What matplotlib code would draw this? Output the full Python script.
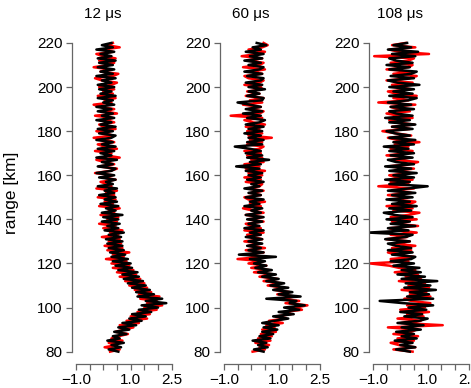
# Range profiles for three pulse lengths, red and black estimates per panel

import numpy as np
import matplotlib
matplotlib.use('Agg')
import matplotlib.pyplot as plt
import matplotlib.transforms as mtransforms

plt.rcParams['font.family'] = ['Liberation Sans', 'DejaVu Sans']

range_km = np.arange(80, 221, 1)
titles = ['12 \u03bcs', '60 \u03bcs', '108 \u03bcs']
x_ticks = [-1.0, -0.5, 0.0, 0.5, 1.0, 1.5, 2.0, 2.5]
x_tick_labels = ['\u22121.0', '', '', '', '1.0', '', '', '2.5']
y_ticks = [80, 100, 120, 140, 160, 180, 200, 220]

# 12 us
black_12 = [
    0.55, 0.20, 0.65, 0.30, 0.75, 0.15, 0.60, 0.35, 0.85, 0.40,
    0.95, 0.55, 1.20, 0.70, 1.40, 0.95, 1.55, 1.05, 1.75, 1.30,
    2.00, 1.40, 2.30, 1.55, 2.15, 1.25, 1.85, 1.20, 1.70, 1.05,
    1.55, 0.90, 1.45, 0.75, 1.30, 0.70, 1.25, 0.55, 1.05, 0.45,
    1.00, 0.35, 0.90, 0.30, 0.80, 0.25, 0.75, 0.20, 0.70, 0.15,
    0.70, 0.10, 0.65, 0.20, 0.75, 0.05, 0.55, 0.15, 0.60, -0.05,
    0.55, 0.00, 0.70, -0.05, 0.45, 0.10, 0.55, -0.10, 0.50, 0.05,
    0.45, -0.15, 0.40, 0.05, 0.50, -0.20, 0.35, 0.10, 0.45, -0.15,
    0.40, -0.25, 0.30, 0.45, -0.20, 0.35, -0.05, 0.50, -0.25, 0.30,
    -0.10, 0.40, -0.20, 0.45, -0.05, 0.35, -0.25, 0.30, 0.45, -0.15,
    0.35, -0.20, 0.45, -0.10, 0.30, -0.25, 0.40, -0.05, 0.35, -0.20,
    0.30, -0.25, 0.40, 0.00, 0.35, -0.20, 0.45, -0.10, 0.30, -0.15,
    0.40, -0.20, 0.30, -0.05, 0.45, -0.25, 0.35, -0.10, 0.40, -0.20,
    0.35, -0.15, 0.45, -0.20, 0.30, -0.10, 0.40, -0.25, 0.35, -0.05,
    0.30]
red_12 = [
    0.25, 0.60, 0.05, 0.50, 0.20, 0.70, 0.30, 0.55, 0.90, 0.45,
    0.75, 1.10, 0.60, 1.30, 0.85, 1.60, 1.00, 1.70, 1.25, 1.95,
    1.50, 2.15, 1.60, 1.95, 1.35, 2.05, 1.30, 1.75, 1.15, 1.60,
    0.95, 1.50, 0.80, 1.35, 0.60, 1.20, 0.50, 1.10, 0.35, 0.95,
    0.30, 0.85, 0.10, 0.75, 0.35, 0.95, 0.15, 0.70, 0.05, 0.65,
    0.20, 0.60, -0.05, 0.55, 0.25, 0.70, 0.00, 0.45, -0.15, 0.50,
    0.15, 0.55, -0.10, 0.40, 0.20, 0.60, -0.15, 0.35, 0.05, 0.45,
    -0.20, 0.40, 0.10, 0.50, -0.25, 0.30, 0.15, -0.10, 0.45, 0.00,
    0.35, -0.30, 0.25, 0.50, -0.15, 0.40, 0.05, -0.25, 0.60, 0.10,
    0.30, -0.30, 0.50, 0.05, -0.20, 0.40, 0.15, -0.35, 0.35, 0.10,
    -0.25, 0.45, 0.00, -0.15, 0.40, 0.10, 0.35, -0.30, 0.50, 0.05,
    0.40, -0.10, -0.35, 0.30, 0.05, 0.45, -0.20, 0.35, 0.00, 0.40,
    -0.15, 0.30, 0.50, -0.05, -0.30, 0.35, 0.55, -0.10, 0.25, -0.35,
    0.20, 0.40, -0.15, 0.45, 0.00, -0.25, 0.35, -0.05, 0.60, 0.15,
    0.35]

# 60 us
black_60 = [
    0.45, 0.10, 0.60, 0.25, 0.55, 0.05, 0.70, 0.30, 0.80, 0.40,
    0.95, 0.45, 1.00, 0.40, 0.85, 1.35, 0.80, 1.55, 1.00, 1.75,
    1.20, 1.95, 1.40, 1.65, 0.55, 1.80, 1.00, 1.50, 0.80, 1.35,
    0.70, 1.20, 0.55, 1.00, 0.40, 0.90, 0.25, 0.75, 0.15, 0.55,
    0.10, 0.50, -0.05, 0.90, -0.45, 0.45, -0.10, 0.35, -0.15, 0.40,
    -0.10, 0.40, -0.20, 0.35, -0.05, 0.45, -0.25, 0.30, -0.10, 0.40,
    -0.15, 0.45, -0.20, 0.35, 0.00, 0.40, -0.25, 0.30, -0.05, 0.45,
    -0.20, 0.35, -0.10, 0.40, -0.25, 0.30, 0.00, 0.45, -0.15, 0.35,
    -0.10, 0.40, -0.20, 0.30, -0.55, 0.35, -0.05, 0.65, -0.15, 0.40,
    -0.20, 0.35, -0.05, -0.60, 0.40, -0.15, 0.45, -0.10, 0.35, -0.25,
    0.40, -0.10, 0.45, -0.20, 0.30, 0.50, -0.15, 0.35, -0.30, 0.40,
    -0.20, 0.35, -0.05, -0.50, 0.40, 0.45, -0.15, 0.30, -0.10, 0.50,
    -0.10, 0.40, -0.20, 0.35, 0.45, -0.15, 0.40, -0.25, 0.30, 0.45,
    -0.10, 0.35, -0.25, 0.40, -0.05, 0.45, -0.20, 0.35, 0.05, 0.55,
    0.20]
red_60 = [
    0.05, 0.50, 0.30, 0.65, 0.15, 0.70, 0.25, 0.75, 0.35, 0.90,
    0.40, 0.85, 0.55, 1.15, 0.65, 1.25, 0.95, 1.45, 1.20, 1.85,
    1.60, 2.05, 1.25, 1.75, 1.05, 1.60, 0.95, 1.40, 0.85, 1.20,
    0.60, 1.10, 0.45, 0.95, 0.30, 0.85, 0.10, 0.65, 0.00, 0.55,
    -0.10, 0.45, -0.50, 0.40, -0.15, 0.45, -0.20, 0.50, -0.10, 0.35,
    -0.25, 0.40, 0.10, -0.15, 0.45, -0.25, 0.35, 0.00, -0.20, 0.45,
    -0.10, 0.40, -0.20, 0.45, 0.05, -0.30, 0.35, -0.05, 0.50, -0.10,
    -0.25, 0.35, 0.00, 0.45, -0.15, 0.30, 0.40, -0.20, 0.35, -0.25,
    0.40, -0.10, 0.50, -0.20, 0.30, -0.25, 0.45, 0.00, 0.40, -0.15,
    0.35, -0.25, 0.30, 0.45, -0.15, 0.40, -0.05, 0.75, -0.10, 0.40,
    -0.15, 0.30, -0.20, 0.50, 0.05, -0.25, 0.40, -0.75, 0.30, 0.45,
    -0.10, 0.35, -0.30, 0.40, -0.05, 0.45, -0.20, 0.30, -0.15, 0.40,
    0.35, -0.25, 0.30, 0.45, -0.10, -0.25, 0.40, 0.00, 0.50, -0.30,
    0.30, 0.45, -0.15, 0.40, -0.35, 0.25, 0.50, -0.10, 0.40, 0.60,
    0.45]

# 108 us
black_108 = [
    0.35, -0.15, 0.55, 0.00, 0.45, -0.20, 0.60, 0.05, 0.50, -0.15,
    0.75, 0.05, 0.85, -0.10, 0.70, 1.00, 0.15, 0.80, 0.00, 0.95,
    0.30, 1.20, 0.10, -0.75, 1.20, 0.25, 1.05, 0.35, 1.30, 0.15,
    1.10, 0.20, 1.35, 0.05, 0.90, -0.10, 0.75, 0.05, 0.70, -0.25,
    0.50, -0.35, 0.40, 0.55, -0.30, 0.45, -0.45, 0.40, -0.15, -0.45,
    0.35, -0.55, 0.20, 0.45, -1.15, 0.30, -0.45, 0.55, -0.35, 0.35,
    -0.50, 0.45, -0.20, -0.60, 0.40, -0.40, 0.60, -0.30, 0.35, -0.50,
    0.45, -0.30, 0.55, -0.45, 0.30, 1.00, -0.40, 0.35, -0.55, 0.50,
    -0.25, 0.60, -0.40, 0.40, -0.55, 0.50, -0.15, -0.45, 0.45, -0.35,
    0.50, -0.40, 0.30, -0.60, 0.50, -0.25, 0.55, -0.40, 0.35, -0.20,
    -0.50, 0.45, -0.30, 0.55, -0.40, 0.35, -0.55, 0.45, -0.15, -0.40,
    0.50, -0.35, 0.40, -0.45, 0.30, 0.60, -0.40, 0.45, -0.25, 0.50,
    -0.40, 0.70, -0.10, -0.45, 0.50, -0.35, 0.40, 0.60, -0.40, 0.35,
    -0.50, 0.45, -0.15, -0.40, 0.55, -0.30, 0.65, -0.45, 0.40, -0.25,
    0.25]
red_108 = [
    0.45, -0.25, 0.55, -0.05, -0.35, 0.50, -0.10, 0.65, -0.25, 0.40,
    0.60, -0.45, 1.55, 0.05, 0.75, -0.10, 0.85, 0.25, 1.05, 0.00,
    0.90, 0.25, 1.10, 0.40, 0.15, 1.10, 0.35, 0.95, 0.05, 1.05,
    0.30, 0.90, -0.05, 0.75, 0.20, 0.65, -0.20, 0.55, -0.05, -0.40,
    -1.10, 0.30, -0.35, 0.50, -0.15, -0.45, 0.40, -0.30, 0.55, -0.20,
    0.35, -0.50, 0.25, -0.35, 0.60, -0.15, -0.40, 0.65, -0.10, -0.30,
    0.60, -0.35, 0.30, 0.70, -0.25, 0.45, -0.50, 0.35, 0.55, -0.20,
    0.25, -0.45, 0.40, -0.30, 0.50, -0.80, 0.30, -0.35, 0.45, -0.10,
    -0.40, 0.35, -0.20, 0.50, -0.45, 0.30, 0.65, -0.25, 0.35, -0.50,
    0.25, 0.45, -0.35, 0.30, -0.20, 0.70, -0.10, -0.45, 0.40, -0.15,
    -0.65, 0.35, -0.30, 0.50, -0.15, -0.40, 0.45, -0.05, -0.50, 0.35,
    -0.10, -0.35, 0.55, -0.80, 0.30, -0.25, 0.60, -0.15, -0.45, 0.40,
    -0.05, -0.30, 0.45, -0.50, 0.35, 0.60, -0.25, 0.40, -0.50, 0.30,
    0.45, -0.35, 0.30, 0.50, -0.95, 1.05, -0.05, -0.40, 0.55, -0.30,
    0.20]

reds = [red_12, red_60, red_108]
blacks = [black_12, black_60, black_108]


def style_axis(ax):
    ax.set_xlim(-1.14, 2.64)
    ax.set_ylim(74.4, 225.6)
    for side in ['top', 'right']:
        ax.spines[side].set_visible(False)
    ax.spines['left'].set_bounds(80, 220)
    ax.spines['bottom'].set_bounds(-1.0, 2.5)
    for side in ['left', 'bottom']:
        ax.spines[side].set_color('#666666')
        ax.spines[side].set_linewidth(0.9)
    ax.set_xticks(x_ticks)
    ax.set_xticklabels(x_tick_labels)
    ax.set_yticks(y_ticks)
    ax.tick_params(axis='both', direction='out', length=4, width=0.9,
                   color='#666666', labelsize=11, labelcolor='black')
    ax.tick_params(axis='x', pad=2.5)
    ax.tick_params(axis='y', pad=3)


fig = plt.figure(figsize=(4.71, 3.88), dpi=100)
lefts = [72 / 471, 220 / 471, 369 / 471]
for i in range(3):
    ax = fig.add_axes([lefts[i], 24 / 388, 103.6 / 471, 333.4 / 388])
    ax.plot(reds[i], range_km, color='#ff0000', linewidth=1.8)
    ax.plot(blacks[i], range_km, color='black', linewidth=1.8)
    style_axis(ax)
    trans = mtransforms.blended_transform_factory(ax.transData, fig.transFigure)
    ax.text(0.0, 1 - 14 / 388, titles[i], transform=trans,
            ha='center', va='center', fontsize=11)

fig.text(12 / 471, 195 / 388, 'range [km]', rotation=90,
         ha='center', va='center', fontsize=12.5)

plt.savefig('out.png', dpi=100)
